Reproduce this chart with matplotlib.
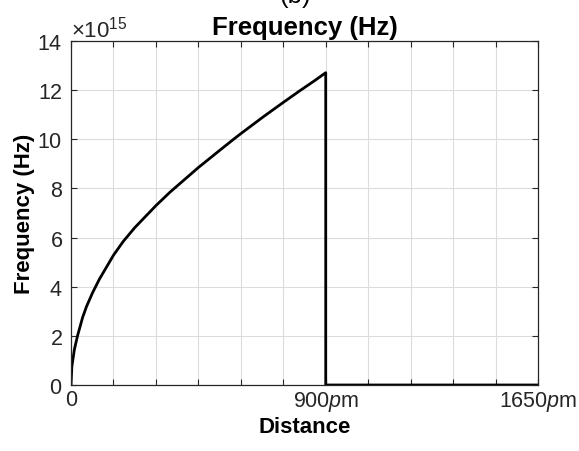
import numpy as np
import matplotlib
matplotlib.use("Agg")
import matplotlib.pyplot as plt
from matplotlib.ticker import ScalarFormatter

plt.rcParams['font.family'] = ['Liberation Sans', 'DejaVu Sans']
plt.rcParams['mathtext.fontset'] = 'custom'
plt.rcParams['mathtext.rm'] = 'Liberation Sans'
plt.rcParams['mathtext.it'] = 'Liberation Sans:italic'
plt.rcParams['mathtext.bf'] = 'Liberation Sans:bold'

# values (distance in pm, frequency in units of 1e15 Hz)
distance_pm = [0, 3, 12, 23, 41, 55, 76, 100, 150, 185, 225, 300, 350, 420, 450,
               520, 571, 600, 680, 750, 809, 860, 900, 900, 1650]
freq_e15 = [0, 0.75, 1.45, 2.0, 2.75, 3.2, 3.75, 4.3, 5.28, 5.85, 6.4, 7.3, 7.85,
            8.55, 8.85, 9.5, 9.97, 10.23, 10.92, 11.5, 11.98, 12.38, 12.71, 0, 0]
freq_hz = np.array(freq_e15) * 1e15

xtick_pos = list(range(0, 1651, 150))
xtick_lab = ['0', '', '', '', '', '', r'900$\mathit{p}$m', '', '', '', '', r'1650$\mathit{p}$m']
ytick_pos = np.arange(0, 15, 2) * 1e15

dark = '#262626'

fig = plt.figure(figsize=(5.79, 4.52), dpi=100)
ax = fig.add_axes([71 / 579, 1 - 386 / 452, 467 / 579, 344 / 452])

ax.plot(distance_pm, freq_hz, color='black', linewidth=2.0, solid_joinstyle='round')

ax.set_xlim(0, 1650)
ax.set_ylim(0, 14e15)
ax.set_xticks(xtick_pos)
ax.set_xticklabels(xtick_lab)
ax.set_yticks(ytick_pos)

fmt = ScalarFormatter(useMathText=True)
fmt.set_powerlimits((15, 15))
ax.yaxis.set_major_formatter(fmt)
ax.yaxis.get_offset_text().set_fontsize(16)
ax.yaxis.get_offset_text().set_color(dark)

ax.grid(True, color='#dcdcdc', linewidth=0.8)
ax.set_axisbelow(True)
ax.tick_params(direction='in', length=4, width=0.8, top=True, right=True,
               labelsize=15.5, colors=dark)
ax.tick_params(axis='x', pad=3)
ax.tick_params(axis='y', pad=6)
for s in ax.spines.values():
    s.set_color(dark)
    s.set_linewidth(0.9)

ax.set_xlabel('Distance', fontsize=16, fontweight='bold', labelpad=2)
ax.set_ylabel('Frequency (Hz)', fontsize=16, fontweight='bold', labelpad=2)
ax.set_title('Frequency (Hz)', fontsize=18.5, fontweight='bold', pad=5)

fig.text(0.51, 1 - 3 / 452, '(b)', fontsize=18.5, ha='center', va='baseline')

fig.savefig('out.png', dpi=100)
